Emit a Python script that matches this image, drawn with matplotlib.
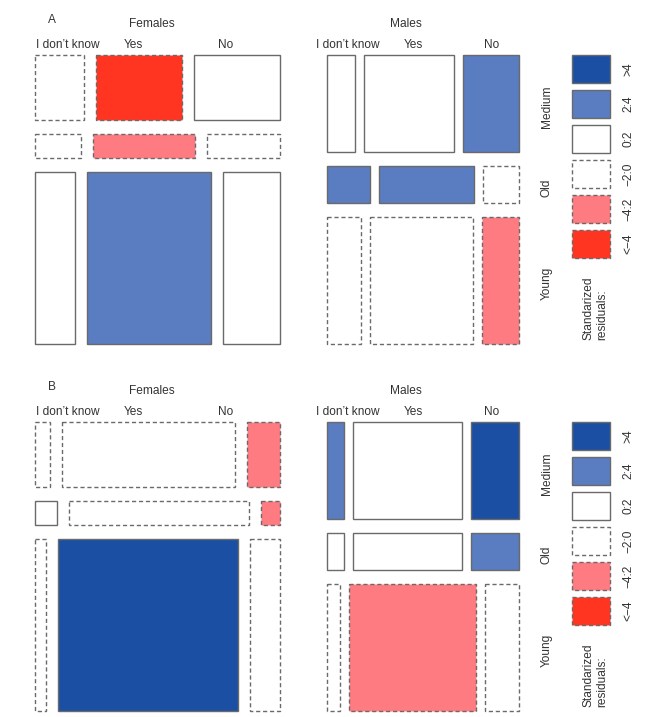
import matplotlib
matplotlib.use("Agg")
import matplotlib.pyplot as plt
from matplotlib.patches import Rectangle

plt.rcParams["font.family"] = ["Liberation Sans", "DejaVu Sans"]

# ---- data (shares in %) ----
genders = ["Females", "Males"]
ages = ["Medium", "Old", "Young"]
answers = ["I don\u2019t know", "Yes", "No"]

# age share inside each gender (same in both panels)
age_share_f = [25, 9, 66]
age_share_m = [37, 14.5, 48.5]

# answer share inside gender x age, panel A
ans_a_f = [[22, 39, 39], [21, 46, 33], [18, 56, 26]]
ans_a_m = [[16, 52, 32], [24.5, 55, 20.5], [19.5, 59.5, 21]]
# panel B
ans_b_f = [[7, 78, 15], [10, 81.5, 8.5], [5, 81.5, 13.5]]
ans_b_m = [[10, 62.5, 27.5], [10, 62.5, 27.5], [7.5, 73, 19.5]]

# residual class per cell: 0 ">4", 1 "2:4", 2 "0:2", 3 "-2:0", 4 "-4:-2", 5 "<-4"
res_a_f = [[3, 5, 2], [3, 4, 3], [2, 1, 2]]
res_a_m = [[2, 2, 1], [1, 1, 3], [3, 3, 4]]
res_b_f = [[3, 3, 4], [2, 3, 4], [3, 0, 3]]
res_b_m = [[1, 2, 0], [2, 2, 1], [3, 4, 3]]

legend_labels = [">4", "2:4", "0:2", "\u22122:0", "\u22124:2", "<\u22124"]

# ---- styles ----
fills = ["#1b4fa4", "#5a7cc0", "white", "white", "#ff7b82", "#ff3522"]
EDGE = "#6a6a6a"
TXT = "#333333"
FS = 8.6

fig = plt.figure(figsize=(6.48, 7.17), dpi=100)
ax = fig.add_axes([0, 0, 1, 1])
ax.set_xlim(0, 648)
ax.set_ylim(717, 0)
ax.axis("off")


def cell(x, y, w, h, cls):
    dashed = cls >= 3
    ax.add_patch(Rectangle((x, y), w, h, facecolor=fills[cls], edgecolor=EDGE,
                           lw=1.0, linestyle=(0, (3, 2)) if dashed else "-"))


def mosaic(x0, x1, top, bottom, hgap, vgap, age_share, ans, res):
    avail_h = (bottom - top) - vgap * (len(ages) - 1)
    avail_w = (x1 - x0) - hgap * (len(answers) - 1)
    y = top
    centers = []
    for i, a in enumerate(age_share):
        h = avail_h * a / sum(age_share)
        x = x0
        for j, s in enumerate(ans[i]):
            w = avail_w * s / sum(ans[i])
            cell(x, y, w, h, res[i][j])
            x += w + hgap
        centers.append(y + h / 2)
        y += h + vgap
    return centers


def panel(letter, top, bottom, af, am, rf, rm):
    ax.text(52, top - 35, letter, fontsize=FS, color=TXT, ha="center", va="center")
    ax.text(152, top - 31, genders[0], fontsize=FS, color=TXT, ha="center", va="center")
    ax.text(406, top - 31, genders[1], fontsize=FS, color=TXT, ha="center", va="center")
    for xs in ([68, 133, 226], [348, 413, 492]):
        for xc, lab in zip(xs, answers):
            ax.text(xc, top - 10, lab, fontsize=FS, color=TXT, ha="center", va="center")

    mosaic(35, 280, top, bottom, 12, 14, age_share_f, af, rf)
    cm = mosaic(327, 519, top, bottom, 9, 14, age_share_m, am, rm)
    for yc, lab in zip(cm, ages):
        ax.text(547, yc + 3, lab, fontsize=FS, color=TXT, rotation=90,
                ha="center", va="center")

    # legend
    for k, lab in enumerate(legend_labels):
        ly = top + 35 * k
        cell(572, ly, 38, 28, k)
        ax.text(628, ly + 14, lab, fontsize=FS, color=TXT, rotation=90,
                ha="center", va="center")
    ax.text(595, top + 285, "Standarized\nresiduals:", fontsize=FS, color=TXT,
            rotation=90, ha="center", va="bottom", multialignment="left")


panel("A", 55, 344, ans_a_f, ans_a_m, res_a_f, res_a_m)
panel("B", 422, 711, ans_b_f, ans_b_m, res_b_f, res_b_m)

fig.savefig("out.png", dpi=100)
